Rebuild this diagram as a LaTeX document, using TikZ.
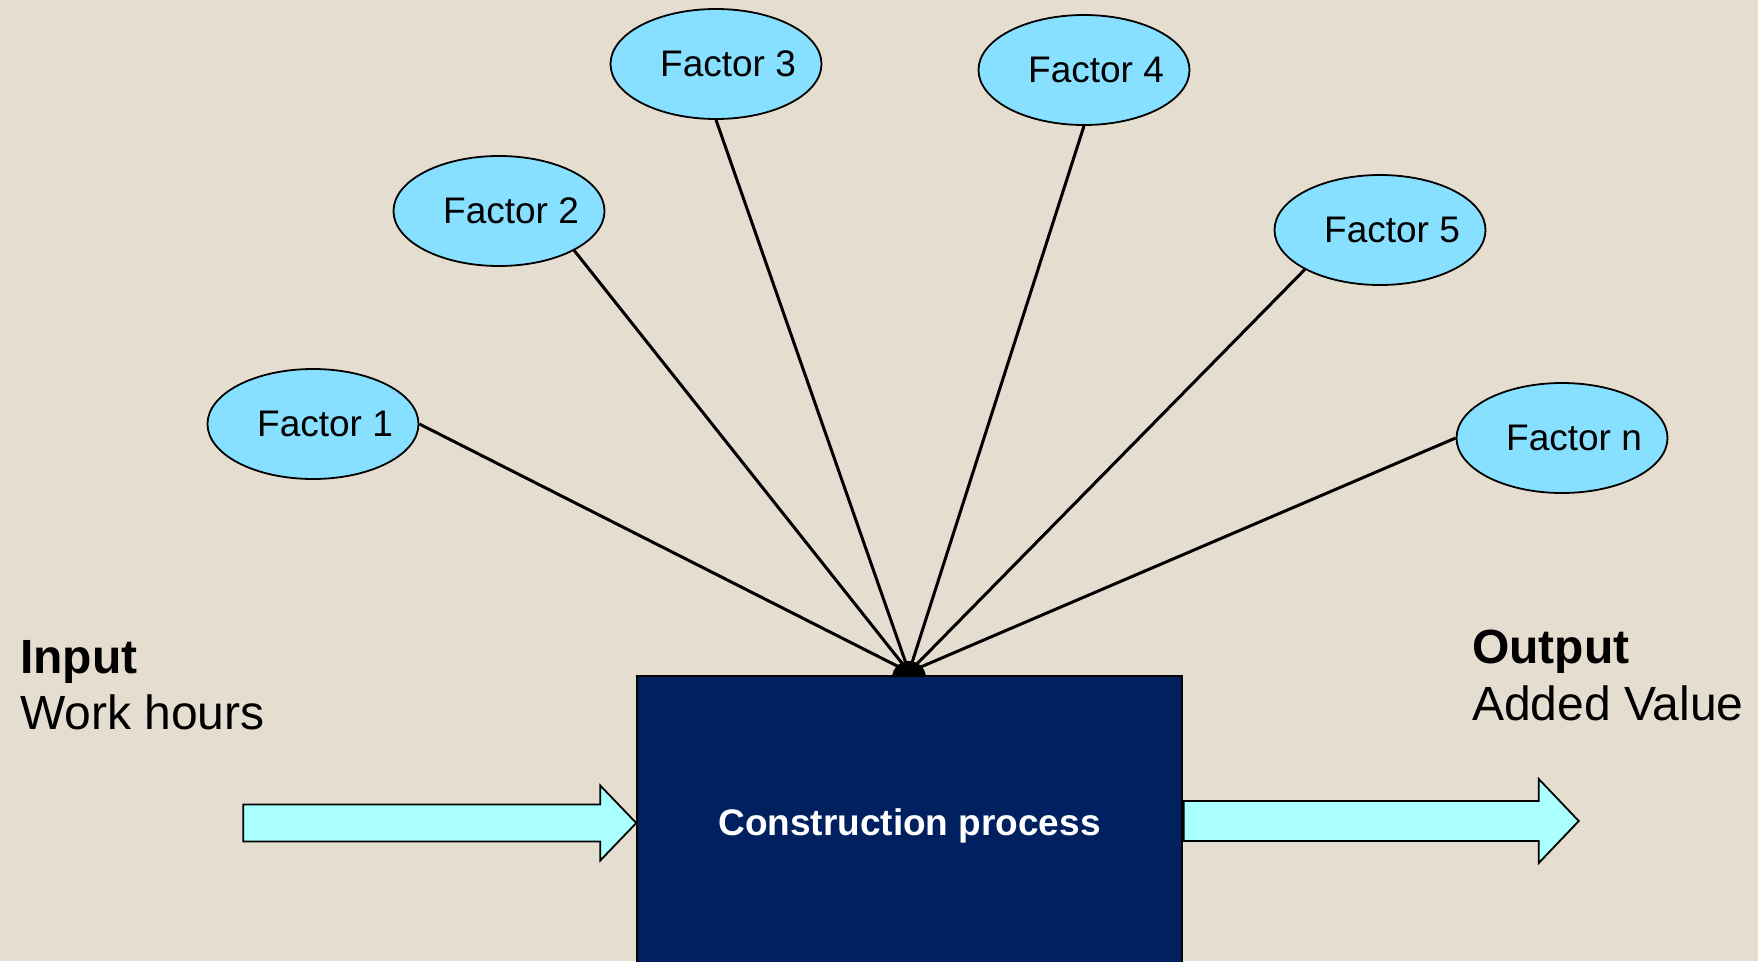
\documentclass[tikz,border=0pt]{standalone}
\usepackage{fontspec}
\setmainfont{Liberation Sans}
\usepackage{tikz}
\usetikzlibrary{shapes}
\usetikzlibrary{positioning}
\usetikzlibrary{calc}
\definecolor{fond}{RGB}{229,221,207}
\definecolor{bleuciel}{RGB}{135,224,255}
\definecolor{cyanpale}{RGB}{170,255,255}
\definecolor{marine}{RGB}{0,32,96}
\tikzstyle{facteur}=[ellipse,draw,line width=1.8pt,fill=bleuciel,
minimum width=211pt,minimum height=110pt,inner sep=0pt,font=\fontsize{37}{40}\selectfont]
\tikzstyle{processus}=[rectangle,draw=black,line width=1.5pt,fill=marine,text=white,
minimum width=545pt,minimum height=300pt,font=\fontsize{37}{40}\selectfont\bfseries]
\tikzstyle{lien}=[line width=3pt,black]
\tikzstyle{fleche}=[draw,line width=1.8pt,fill=cyanpale,line join=miter]
\tikzstyle{etiquette}=[anchor=base west,inner sep=0pt,font=\fontsize{48}{52}\selectfont]
\newcommand{\texte}[1]{\makebox[100pt]{\hspace*{24pt}#1}}

\begin{document}
\begin{tikzpicture}[x=1pt,y=-1pt]
\fill[fond] (0,0) rectangle (1758,961);
\useasboundingbox (0,0) rectangle (1758,961);
\node[facteur] (f1) at (313,424) {\texte{Factor 1}};
\node[facteur] (f2) at (499,211) {\texte{Factor 2}};
\node[facteur] (f3) at (716,64) {\texte{Factor 3}};
\node[facteur] (f4) at (1084,70) {\texte{Factor 4}};
\node[facteur] (f5) at (1380,230) {\texte{Factor 5}};
\node[facteur] (fn) at (1562,438) {\texte{Factor n}};
\coordinate (hub) at (909,672);
%Placement des liens
\fill[black] (909,678) circle (17);
\draw[lien] (f1.east) -- (hub);
\draw[lien] (f2.south east) -- (hub);
\draw[lien] (f3.south) -- (hub);
\draw[lien] (f4.south) -- (hub);
\draw[lien] (f5.south west) -- (hub);
\draw[lien] (fn.west) -- (hub);
\node[processus] (proc) at (909.5,826) {\raisebox{4pt}{Construction process}};
%Fleches
\draw[fleche] ([yshift=3pt]proc.west) -- ++(-36,-37.5) -- ++(0,19) -- ++(-357,0) -- ++(0,37)
  -- ++(357,0) -- ++(0,19) -- cycle;
\draw[fleche] ($(proc.east)+(1,-25)$) -- ++(355,0) -- ++(0,-22) -- ++(40,42)
  -- ++(-40,42) -- ++(0,-22) -- ++(-355,0) -- cycle;
\node[etiquette] (entree) at (20,673) {\bfseries Input};
\node[etiquette] (heures) at (20,729) {Work hours};
\node[etiquette] (sortie) at (1472,663) {\bfseries Output};
\node[etiquette] (valeur) at (1472,720) {Added Value};
\end{tikzpicture}
\end{document}
